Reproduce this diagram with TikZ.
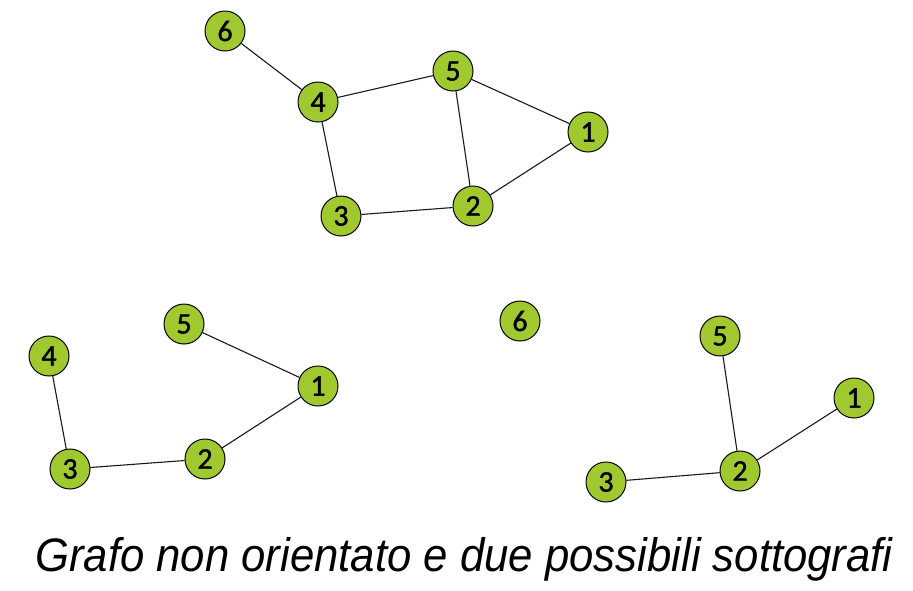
\documentclass[tikz,border=0pt]{standalone}
\usepackage{fontspec}
\setmainfont{Liberation Sans}
\newfontfamily\numfont[FakeBold=1.2]{Carlito}
\definecolor{vgreen}{RGB}{160,201,48}
\begin{document}
\begin{tikzpicture}[x=1pt,y=-1pt,
  vtx/.style={circle,draw=black,line width=1pt,fill=vgreen,minimum size=40pt,inner sep=0pt,font=\numfont\fontsize{30}{30}\selectfont},
  edge/.style={draw=black!90,line width=1.1pt}]
\useasboundingbox (0,0) rectangle (913,590);
% top graph
\node[vtx] (t6) at (225,31) {6};
\node[vtx] (t4) at (318,102) {4};
\node[vtx] (t5) at (453,71) {5};
\node[vtx] (t1) at (588,132) {1};
\node[vtx] (t2) at (473,206) {2};
\node[vtx] (t3) at (341,216) {3};
\draw[edge] (t6) -- (t4);
\draw[edge] (t4) -- (t5);
\draw[edge] (t4) -- (t3);
\draw[edge] (t5) -- (t1);
\draw[edge] (t5) -- (t2);
\draw[edge] (t1) -- (t2);
\draw[edge] (t3) -- (t2);
% bottom left
\node[vtx] (a4) at (49,356) {4};
\node[vtx] (a5) at (184,324) {5};
\node[vtx] (a1) at (318,386) {1};
\node[vtx] (a2) at (205,459) {2};
\node[vtx] (a3) at (70,469) {3};
\node[vtx] (a6) at (520,321) {6};
\draw[edge] (a4) -- (a3);
\draw[edge] (a5) -- (a1);
\draw[edge] (a1) -- (a2);
\draw[edge] (a3) -- (a2);
% bottom right
\node[vtx] (b5) at (720,336) {5};
\node[vtx] (b1) at (854,398) {1};
\node[vtx] (b2) at (740,471) {2};
\node[vtx] (b3) at (606,482) {3};
\draw[edge] (b5) -- (b2);
\draw[edge] (b1) -- (b2);
\draw[edge] (b3) -- (b2);
% caption
\node[anchor=base,inner sep=0pt,font=\fontsize{47}{47}\selectfont\itshape] (cap) at (464,571) {\scalebox{0.93}[1]{Grafo non orientato e due possibili sottografi}};
\end{tikzpicture}
\end{document}
